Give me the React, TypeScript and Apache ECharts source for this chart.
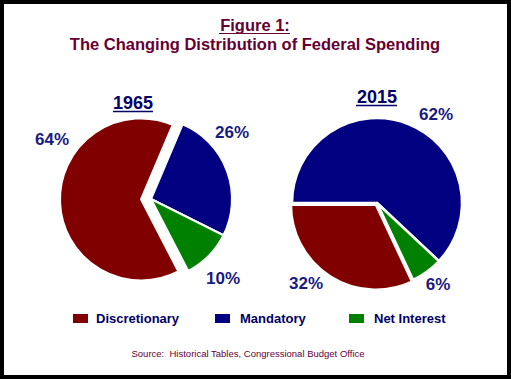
import React, { useEffect, useRef } from "react";
import * as echarts from "echarts";

const categories = ["Discretionary", "Mandatory", "Net Interest"];
const colors = ["#800000", "#000080", "#008000"];
const values1965 = [64, 26, 10];
const values2015 = [32, 62, 6];
const years = ["1965", "2015"];
const titleLine1 = "Figure 1:";
const titleLine2 = "The Changing Distribution of Federal Spending";
const sourceText = "Source:  Historical Tables, Congressional Budget Office";
const pieOrder1965 = ["Mandatory", "Net Interest", "Discretionary"];
const pieOrder2015 = ["Mandatory", "Net Interest", "Discretionary"];

// layout only
const labelPos1965: [number, number][] = [
  [52, 139],
  [232, 132],
  [223, 278],
];
const labelPos2015: [number, number][] = [
  [306, 283],
  [436, 114],
  [438, 284],
];
const legendLefts = [71, 213, 347];

const TITLE_COLOR = "#660033";
const NAVY_TEXT = "#000066";
const LABEL_COLOR = "#1a1a80";
const FONT = "Arial, 'Liberation Sans', sans-serif";

function pieData(values: number[], order: string[], selectedName: string | null) {
  return order.map((name) => {
    const i = categories.indexOf(name);
    return {
      name,
      value: values[i],
      selected: name === selectedName,
      itemStyle: { color: colors[i] },
    };
  });
}

function valueLabels(values: number[], pos: [number, number][]) {
  return values.map((v, i) => ({
    type: "text",
    x: pos[i][0],
    y: pos[i][1],
    style: {
      text: `${v}%`,
      fill: LABEL_COLOR,
      font: `bold 17px ${FONT}`,
      align: "center",
      verticalAlign: "middle",
    },
  }));
}

export default function App() {
  const ref = useRef<HTMLDivElement>(null);
  useEffect(() => {
    if (!ref.current) return;
    const chart = echarts.init(ref.current, null, { renderer: "svg" });
    chart.setOption({
      animation: false,
      backgroundColor: "#000000",
      legend: categories.map((name, i) => ({
        data: [name],
        left: legendLefts[i],
        top: 312,
        padding: 0,
        icon: "rect",
        itemWidth: 17,
        itemHeight: 11,
        selectedMode: false,
        textStyle: {
          color: NAVY_TEXT,
          fontFamily: FONT,
          fontWeight: "bold",
          fontSize: 13,
          padding: [0, 0, 0, i === 0 ? 2 : 4],
        },
      })),
      graphic: [
        {
          type: "rect",
          z: -100,
          shape: { x: 4, y: 4, width: 503, height: 371 },
          style: { fill: "#ffffff" },
          silent: true,
        },
        {
          type: "text",
          x: 255,
          y: 25,
          style: {
            text: titleLine1,
            fill: TITLE_COLOR,
            font: `bold 16.5px ${FONT}`,
            align: "center",
            verticalAlign: "middle",
          },
        },
        {
          type: "line",
          shape: { x1: 219, y1: 33.5, x2: 290, y2: 33.5 },
          style: { stroke: TITLE_COLOR, lineWidth: 1.2 },
        },
        {
          type: "text",
          x: 255,
          y: 44,
          style: {
            text: titleLine2,
            fill: TITLE_COLOR,
            font: `bold 16.5px ${FONT}`,
            align: "center",
            verticalAlign: "middle",
          },
        },
        {
          type: "text",
          x: 133,
          y: 103,
          style: {
            text: years[0],
            fill: NAVY_TEXT,
            font: `bold 18px ${FONT}`,
            align: "center",
            verticalAlign: "middle",
          },
        },
        {
          type: "line",
          shape: { x1: 113, y1: 111.5, x2: 153, y2: 111.5 },
          style: { stroke: NAVY_TEXT, lineWidth: 1.5 },
        },
        {
          type: "text",
          x: 377,
          y: 97,
          style: {
            text: years[1],
            fill: NAVY_TEXT,
            font: `bold 18px ${FONT}`,
            align: "center",
            verticalAlign: "middle",
          },
        },
        {
          type: "line",
          shape: { x1: 356, y1: 105.5, x2: 397, y2: 105.5 },
          style: { stroke: NAVY_TEXT, lineWidth: 1.5 },
        },
        {
          type: "text",
          x: 248,
          y: 353,
          style: {
            text: sourceText,
            fill: TITLE_COLOR,
            font: `9.5px ${FONT}`,
            align: "center",
            verticalAlign: "middle",
          },
        },
        ...valueLabels(values1965, labelPos1965),
        ...valueLabels(values2015, labelPos2015),
      ],
      series: [
        {
          type: "pie",
          center: [151, 199],
          radius: [0, 81],
          startAngle: 67,
          clockwise: true,
          selectedMode: "single",
          selectedOffset: 10,
          avoidLabelOverlap: false,
          emphasis: { disabled: true },
          itemStyle: { borderColor: "#ffffff", borderWidth: 2 },
          label: { show: false },
          labelLine: { show: false },
          data: pieData(values1965, pieOrder1965, "Discretionary"),
        },
        {
          type: "pie",
          center: [377, 203],
          radius: [0, 85],
          startAngle: 180,
          clockwise: true,
          selectedMode: "single",
          selectedOffset: 2,
          avoidLabelOverlap: false,
          emphasis: { disabled: true },
          itemStyle: { borderColor: "#ffffff", borderWidth: 2.5 },
          label: { show: false },
          labelLine: { show: false },
          data: pieData(values2015, pieOrder2015, "Discretionary"),
        },
      ],
    });
    return () => chart.dispose();
  }, []);
  return (
    <div
      ref={ref}
      style={{ position: "fixed", left: 0, top: 0, width: 511, height: 379 }}
    />
  );
}
